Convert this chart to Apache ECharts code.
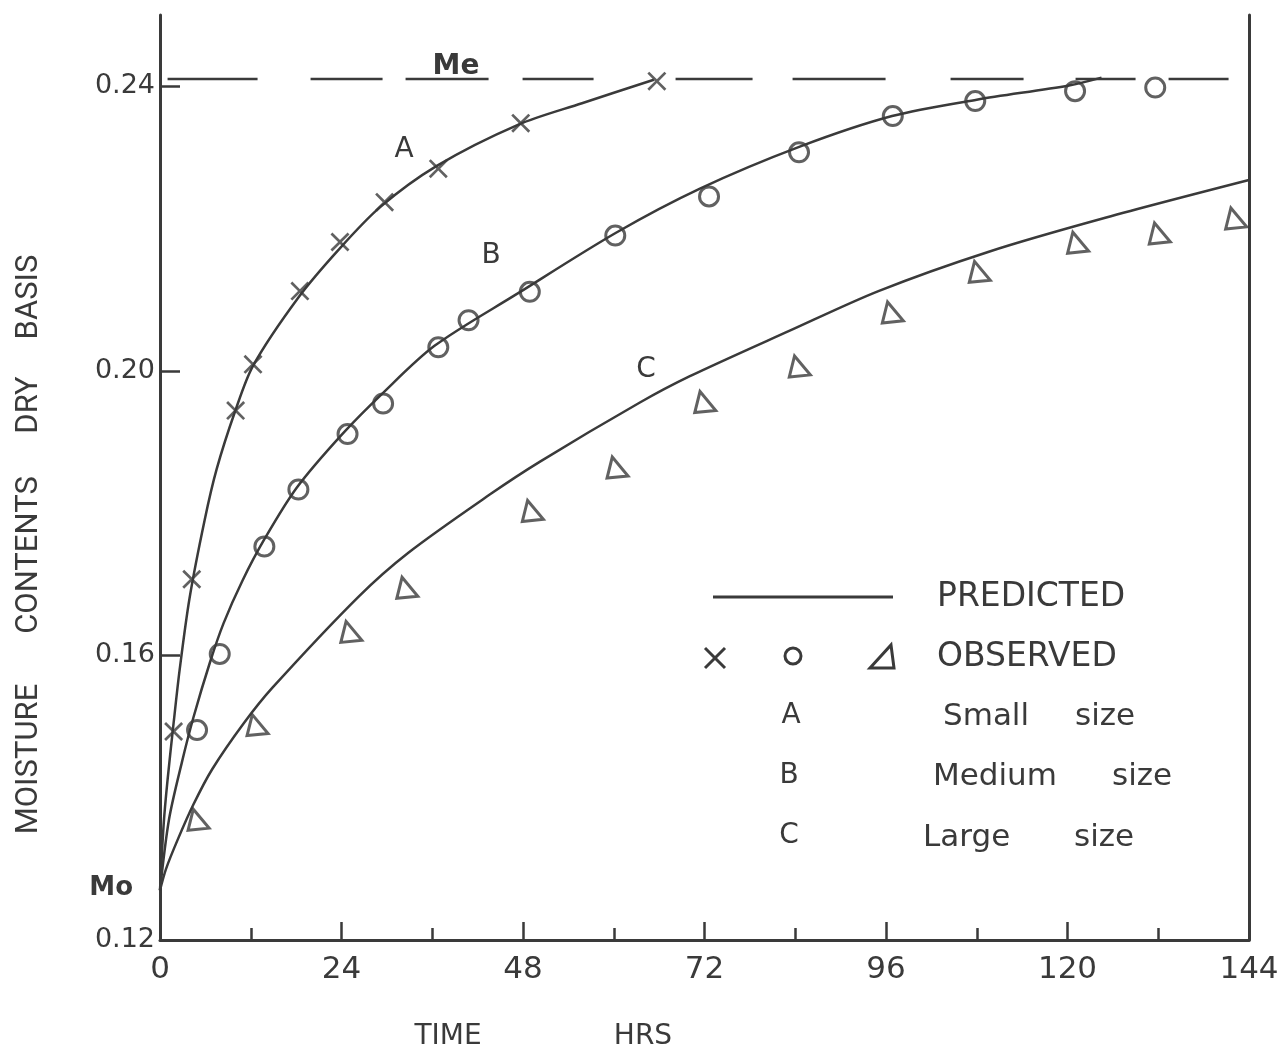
<!DOCTYPE html>
<html>
<head>
<meta charset="utf-8">
<script src="https://cdn.jsdelivr.net/npm/echarts@6/dist/echarts.min.js"></script>
<style>
  html, body { margin: 0; background: #fff; }
  #MoistureChart { width: 1287px; height: 1055px; }
</style>
</head>
<body>
<div id="MoistureChart"></div>
<script>
// values: time in hrs, moisture content (dry basis)
const xTicks = [0, 24, 48, 72, 96, 120, 144];
const yTicks = [0.12, 0.16, 0.20, 0.24];
const Mo = 0.127;
const Me = 0.241;
const meHours = [1, 144];

// predicted curves
const predA_t = [0, 0.5, 1.0, 1.8, 2.6, 3.9, 5.9, 7.5, 9.9, 12.3, 18.3, 23.6, 29.1, 36.6, 47.4, 55.8, 65.3];
const predA_m = [Mo, 0.1365, 0.1425, 0.1505, 0.1580, 0.1680, 0.1790, 0.1862, 0.1942, 0.2007, 0.2103, 0.2170, 0.2230, 0.2288, 0.2346, 0.2376, 0.2409];
const predB_t = [0, 1.2, 2.9, 4.4, 6.6, 8.4, 10.9, 13.9, 18.1, 24.1, 29.4, 36.3, 47.2, 60.3, 71.4, 84.6, 96.8, 108.0, 120.2, 124.5];
const predB_m = [Mo, 0.1370, 0.1450, 0.1512, 0.1590, 0.1645, 0.1705, 0.1765, 0.1836, 0.1911, 0.1968, 0.2035, 0.2108, 0.2194, 0.2256, 0.2315, 0.2358, 0.2381, 0.2401, 0.2412];
const predC_t = [0, 0.8, 2.3, 4.4, 6.9, 11.1, 14.9, 26.2, 32.8, 43.6, 50.2, 63.4, 70.0, 83.2, 95.0, 109.5, 125.0, 144];
const predC_m = [Mo, 0.1300, 0.1340, 0.1390, 0.1440, 0.1505, 0.1555, 0.1682, 0.1744, 0.1826, 0.1872, 0.1955, 0.1992, 0.2056, 0.2112, 0.2167, 0.2215, 0.2268];

// observed points
const obsA_t = [1.8, 4.2, 10.0, 12.3, 18.5, 23.8, 29.7, 36.8, 47.7, 65.7];
const obsA_m = [0.1493, 0.1707, 0.1944, 0.2009, 0.2112, 0.2181, 0.2237, 0.2284, 0.2348, 0.2407];
const obsB_t = [4.9, 7.9, 13.8, 18.3, 24.8, 29.5, 36.8, 40.8, 48.9, 60.2, 72.6, 84.5, 96.9, 107.8, 121.0, 131.6];
const obsB_m = [0.1495, 0.1602, 0.1753, 0.1833, 0.1911, 0.1954, 0.2033, 0.2071, 0.2111, 0.2190, 0.2245, 0.2307, 0.2358, 0.2379, 0.2393, 0.2398];
const obsC_t = [5.1, 12.9, 25.3, 32.7, 49.3, 60.5, 72.1, 84.6, 96.9, 108.4, 121.4, 132.2, 142.3];
const obsC_m = [0.1369, 0.1502, 0.1633, 0.1695, 0.1803, 0.1864, 0.1956, 0.2006, 0.2082, 0.2139, 0.2180, 0.2193, 0.2214];

const pairs = (t, m) => t.map((v, i) => [v, m[i]]);

const ink = '#3a3a3a';
const font = 'DejaVu Sans';
const crossPath = 'path://M1,0 L5,4 L9,0 L10,1 L6,5 L10,9 L9,10 L5,6 L1,10 L0,9 L4,5 L0,1 Z';
const triPath = 'path://M2.5,0 L10,9 L0,10 Z';

const txt = (s, x, y, size, opts) => Object.assign({
  type: 'text', x: x, y: y, silent: true,
  style: Object.assign({
    text: s, fill: ink, font: size + 'px "' + font + '"',
    align: 'left', verticalAlign: 'middle'
  }, (opts && opts.style) || {})
}, opts && opts.rotation ? { rotation: opts.rotation } : {});

const predLine = (t, m) => ({
  type: 'line',
  data: pairs(t, m),
  showSymbol: false,
  smooth: 0.3,
  lineStyle: { color: ink, width: 2.5 },
  z: 2
});

const option = {
  animation: false,
  backgroundColor: '#fff',
  grid: { left: 160, right: 38, top: 15, bottom: 115 },
  xAxis: {
    type: 'value',
    min: 0,
    max: 144,
    interval: 24,
    axisLine: { lineStyle: { color: ink, width: 3 } },
    axisTick: { inside: true, length: 18, customValues: xTicks, lineStyle: { color: ink, width: 2.5 } },
    minorTick: { show: true, splitNumber: 2, length: 12, lineStyle: { color: ink, width: 2.5 } },
    axisLabel: { customValues: xTicks, fontSize: 31, margin: 14, color: ink, fontFamily: font },
    splitLine: { show: false }
  },
  yAxis: [
    {
      type: 'value',
      min: 0.12,
      max: 0.25,
      interval: 0.04,
      axisLine: { show: true, lineStyle: { color: ink, width: 3 } },
      axisTick: { show: true, inside: true, length: 20, customValues: yTicks, lineStyle: { color: ink, width: 2.5 } },
      axisLabel: { customValues: yTicks, formatter: v => v.toFixed(2), fontSize: 27, margin: 5, color: ink, fontFamily: font },
      splitLine: { show: false }
    },
    {
      type: 'value',
      position: 'right',
      min: 0.12,
      max: 0.25,
      axisLine: { show: true, lineStyle: { color: ink, width: 3 } },
      axisTick: { show: false },
      axisLabel: { show: false },
      splitLine: { show: false }
    }
  ],
  series: [
    {
      type: 'line',
      data: pairs(meHours, [Me, Me]),
      showSymbol: false,
      lineStyle: { color: ink, width: 2.5, type: [90, 53, 72, 23, 83, 34, 71, 82, 77, 40, 93, 65, 73, 52, 60, 33, 60] },
      z: 1
    },
    predLine(predA_t, predA_m),
    predLine(predB_t, predB_m),
    predLine(predC_t, predC_m),
    {
      type: 'scatter',
      data: pairs(obsA_t, obsA_m),
      symbol: crossPath,
      symbolSize: 19,
      itemStyle: { color: ink },
      z: 3
    },
    {
      type: 'scatter',
      data: pairs(obsB_t, obsB_m),
      symbol: 'circle',
      symbolSize: 19,
      itemStyle: { color: 'rgba(0,0,0,0)', borderColor: ink, borderWidth: 3 },
      z: 3
    },
    {
      type: 'scatter',
      data: pairs(obsC_t, obsC_m),
      symbol: triPath,
      symbolSize: 21,
      itemStyle: { color: 'rgba(0,0,0,0)', borderColor: ink, borderWidth: 3 },
      z: 3
    }
  ],
  graphic: [
    // axis titles
    txt('MOISTURE', 29, 759, 31, { rotation: Math.PI / 2, style: { align: 'center', font: '31px Roboto' } }),
    txt('CONTENTS', 29, 555, 31, { rotation: Math.PI / 2, style: { align: 'center', font: '31px Roboto' } }),
    txt('DRY', 29, 405, 31, { rotation: Math.PI / 2, style: { align: 'center', font: '31px Roboto' } }),
    txt('BASIS', 29, 297, 31, { rotation: Math.PI / 2, style: { align: 'center', font: '31px Roboto' } }),
    txt('TIME', 448, 1037, 28, { style: { align: 'center' } }),
    txt('HRS', 643, 1037, 28, { style: { align: 'center' } }),
    // curve labels
    txt('A', 404, 150, 28, { style: { align: 'center' } }),
    txt('B', 491, 256, 28, { style: { align: 'center' } }),
    txt('C', 646, 370, 28, { style: { align: 'center' } }),
    txt('Me', 456, 67, 28, { style: { align: 'center', font: 'bold 28px "' + font + '"' } }),
    txt('Mo', 133, 888, 26, { style: { align: 'right', font: 'bold 26px "' + font + '"' } }),
    // key
    { type: 'line', silent: true, shape: { x1: 713, y1: 597, x2: 893, y2: 597 }, style: { stroke: ink, lineWidth: 3 } },
    txt('PREDICTED', 937, 597, 33),
    { type: 'line', silent: true, shape: { x1: 705, y1: 648, x2: 725, y2: 668 }, style: { stroke: ink, lineWidth: 3 } },
    { type: 'line', silent: true, shape: { x1: 725, y1: 648, x2: 705, y2: 668 }, style: { stroke: ink, lineWidth: 3 } },
    { type: 'circle', silent: true, shape: { cx: 793, cy: 656, r: 8 }, style: { fill: 'none', stroke: ink, lineWidth: 3 } },
    { type: 'polygon', silent: true, shape: { points: [[891, 645], [894, 668], [870, 668]] }, style: { fill: 'none', stroke: ink, lineWidth: 3 } },
    txt('OBSERVED', 937, 657, 33),
    txt('A', 791, 716, 28, { style: { align: 'center' } }),
    txt('Small', 943, 717, 31),
    txt('size', 1075, 717, 31),
    txt('B', 789, 776, 28, { style: { align: 'center' } }),
    txt('Medium', 933, 777, 31),
    txt('size', 1112, 777, 31),
    txt('C', 789, 836, 28, { style: { align: 'center' } }),
    txt('Large', 923, 838, 31),
    txt('size', 1074, 838, 31)
  ]
};

let myChart = null;
const initMoistureChart = () => {
  const chartDom = document.getElementById('MoistureChart');
  myChart = echarts.init(chartDom, null, { renderer: 'canvas' });
  myChart.setOption(option);
};
initMoistureChart();
</script>
</body>
</html>
